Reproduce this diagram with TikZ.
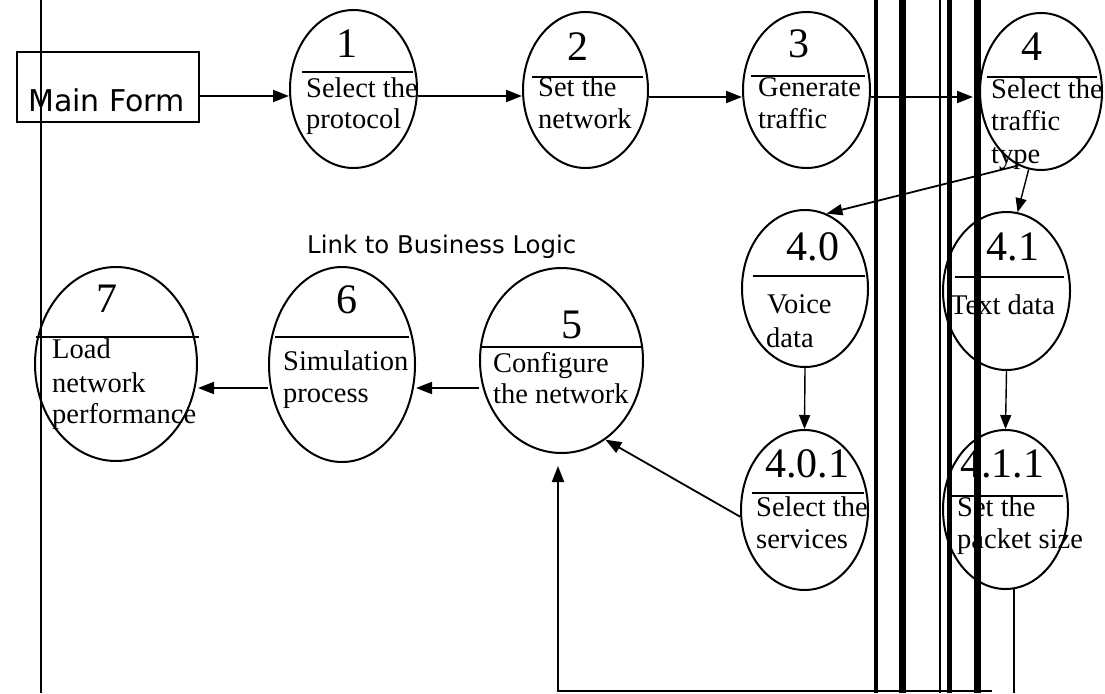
\documentclass[tikz,border=0pt]{standalone}
\usepackage{fontspec}
\setmainfont{Liberation Serif}
\newfontfamily\sansf{DejaVu Sans}
\usetikzlibrary{shapes.geometric,arrows.meta,calc}

\begin{document}
\begin{tikzpicture}[x=1pt,y=-1pt,
  proc/.style={draw, ellipse, line width=2pt, inner sep=0pt},
  sep/.style={line width=2.6pt},
  num/.style={anchor=base, inner sep=0pt, font=\fontsize{42}{42}\selectfont},
  txt/.style={anchor=base west, inner sep=0pt, font=\fontsize{28.5}{32}\selectfont},
  arr/.style={line width=2pt, -{Triangle[length=16pt,width=12pt]}},
  thinarr/.style={line width=1.4pt, -{Triangle[length=14pt,width=11pt]}},
  sans/.style={anchor=base west, inner sep=0pt},
]
\fill[white] (0,0) rectangle (1105,693);
\useasboundingbox (0,0) rectangle (1105,693);

% entry form
\node[draw, line width=2pt, minimum width=182pt, minimum height=70pt, inner sep=0pt] (mf) at (108,87) {};
\node[sans, font=\sansf\fontsize{30}{30}\selectfont] (mft) at (28,111) {Main Form};

% processes
\node[proc, minimum width=127pt, minimum height=158pt] (e1) at (353.5,89) {};
\node[proc, minimum width=125pt, minimum height=156pt] (e2) at (585.5,90) {};
\node[proc, minimum width=127pt, minimum height=156pt] (e3) at (806.5,90) {};
\node[proc, minimum width=122pt, minimum height=157pt] (e4) at (1041,91.5) {};
\node[proc, minimum width=126pt, minimum height=157pt] (e40) at (805,288.5) {};
\node[proc, minimum width=127pt, minimum height=158pt] (e41) at (1006.5,291) {};
\node[proc, minimum width=127pt, minimum height=160pt] (e401) at (804.5,510) {};
\node[proc, minimum width=125pt, minimum height=159pt] (e411) at (1005.5,509.5) {};
\node[proc, minimum width=163pt, minimum height=185pt] (e5) at (561.5,360.5) {};
\node[proc, minimum width=146pt, minimum height=195pt] (e6) at (342,364.5) {};
\node[proc, minimum width=162pt, minimum height=194pt] (e7) at (116,364) {};

% separators
\draw[sep] (302,72) -- (413,72);
\draw[sep] (532,77) -- (643,77);
\draw[sep] (751,76) -- (865,76);
\draw[sep] (987,77) -- (1097,77);
\draw[sep] (753,276) -- (865,276);
\draw[sep] (955,277) -- (1064,277);
\draw[sep] (752,493) -- (864,493);
\draw[sep] (947,496) -- (1063,496);
\draw[sep] (480,347) -- (643,347);
\draw[sep] (275,337) -- (409,337);
\draw[sep] (36,337) -- (199,337);

% numbers
\node[num] (n1) at (347,58) {1};
\node[num] (n2) at (578,60) {2};
\node[num] (n3) at (799,58) {3};
\node[num] (n4) at (1032,60) {4};
\node[num] (n40) at (813,260) {4.0};
\node[num] (n41) at (1013,260) {4.1};
\node[num] (n401) at (807,477) {4.0.1};
\node[num] (n411) at (1002,477) {4.1.1};
\node[num] (n5) at (572,338) {5};
\node[num] (n6) at (347,313) {6};
\node[num] (n7) at (107,312) {7};

% process texts
\node[txt] (t1a) at (306,97) {Select the};
\node[txt] (t1b) at (306,128) {protocol};
\node[txt] (t2a) at (538,96) {Set the};
\node[txt] (t2b) at (538,128) {network};
\node[txt] (t3a) at (758,96) {Generate};
\node[txt] (t3b) at (758,128) {traffic};
\node[txt] (t4a) at (991,98) {Select the};
\node[txt] (t4b) at (991,130) {traffic};
\node[txt] (t4c) at (991,163) {type};
\node[txt] (t40a) at (767,313) {Voice};
\node[txt] (t40b) at (766,347) {data};
\node[txt] (t41a) at (950,314) {Text data};
\node[txt] (t401a) at (756,516) {Select the};
\node[txt] (t401b) at (756,548) {services};
\node[txt] (t411a) at (957,516) {Set the};
\node[txt] (t411b) at (957,548) {packet size};
\node[txt] (t5a) at (493,372) {Configure};
\node[txt] (t5b) at (493,403) {the network};
\node[txt] (t6a) at (283,370) {Simulation};
\node[txt] (t6b) at (283,402) {process};
\node[txt] (t7a) at (52,358) {Load};
\node[txt] (t7b) at (52,392) {network};
\node[txt] (t7c) at (52,423) {performance};

\node[sans, font=\sansf\fontsize{24.4}{24.4}\selectfont] (link) at (307,253) {Link to Business Logic};

% flows
\draw[arr] (mf.east |- 0,96) -- (e1.west |- 0,96);
\draw[arr] (e1.east |- 0,96) -- (e2.west |- 0,96);
\draw[arr] (e2.east |- 0,97) -- (e3.west |- 0,97);
\draw[arr] (e3.east |- 0,97) -- ($(e4.west |- 0,97)+(-6,0)$);
\draw[line width=1.8pt, -{Triangle[length=16pt,width=11pt]}] (e4.253) -- (e40.74);
\draw[line width=1.4pt, -{Triangle[length=14pt,width=11pt]}] (e4.261) -- (e41.82);
\draw[thinarr] (e40.south) -- (e401.north);
\draw[thinarr] (e41.south) -- (e411.north);
\draw[line width=1.8pt, -{Triangle[length=16pt,width=12pt]}] (e401.186) -- (e5.299);
\draw[arr] (e5.west |- 0,388) -- (e6.east |- 0,388);
\draw[arr] (e6.west |- 0,388) -- (e7.east |- 0,388);

\coordinate (fb) at (992,690.5);
\coordinate (fe) at (1014,693);
\draw[line width=1.3pt] (e411.276) -- (e411.276 |- fe);
\draw[line width=2pt, -{Triangle[length=16pt,width=12pt]}] (fb) -| ($(e5.south)+(-3.5,12)$);

% boundary lines
\draw[line width=2pt] (41,0) -- (41,693);
\draw[line width=4.5pt] (876,0) -- (876,693);
\draw[line width=7pt] (902,0) -- (902,693);
\draw[line width=1.5pt] (940,0) -- (940,693);
\draw[line width=5pt] (949,0) -- (949,693);
\draw[line width=7pt] (977,0) -- (977,693);
\end{tikzpicture}
\end{document}
